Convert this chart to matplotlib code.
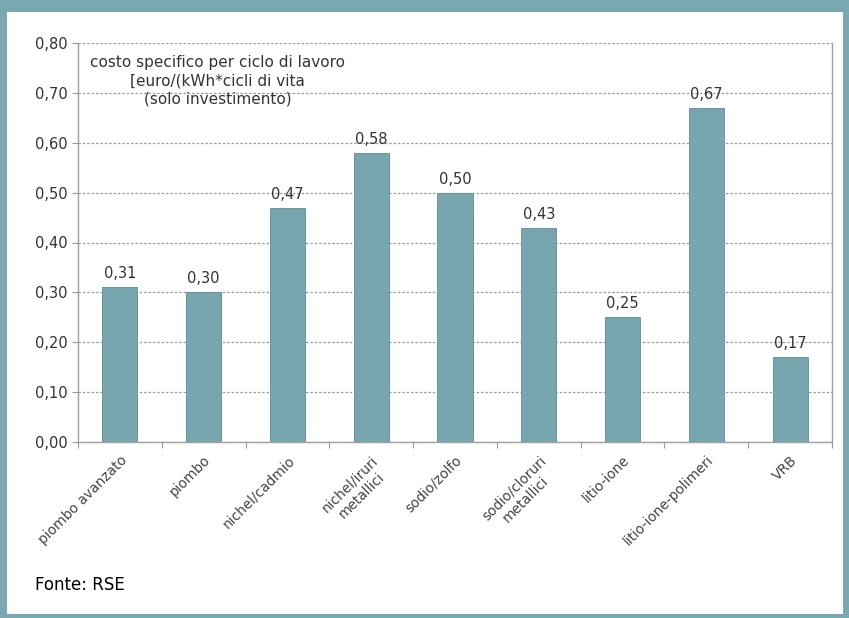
import matplotlib.pyplot as plt
from matplotlib.patches import Rectangle
from matplotlib.ticker import MultipleLocator, FuncFormatter

# costo specifico per ciclo di lavoro, per tecnologia di accumulo
tecnologie = ["piombo avanzato", "piombo", "nichel/cadmio", "nichel/iruri\nmetallici",
              "sodio/zolfo", "sodio/cloruri\nmetallici", "litio-ione",
              "litio-ione-polimeri", "VRB"]
costi = [0.31, 0.30, 0.47, 0.58, 0.50, 0.43, 0.25, 0.67, 0.17]

teal = "#78a6af"
frame = "#7aa8b1"

fig = plt.figure(figsize=(8.49, 6.18), dpi=100, facecolor=frame)
# white panel inside the coloured frame
fig.patches.append(Rectangle((7 / 849, 4 / 618), 836 / 849, 602 / 618,
                             transform=fig.transFigure, facecolor="white",
                             edgecolor="none", zorder=-10))

ax = fig.add_axes([78 / 849, 1 - 442 / 618, 754 / 849, 399 / 618])
ax.set_facecolor("white")

x = range(len(costi))
ax.bar(x, costi, width=0.42, color=teal, edgecolor="#5f8d96", linewidth=0.6, zorder=3)

for xi, v in zip(x, costi):
    ax.text(xi, v + 0.012, f"{v:.2f}".replace(".", ","), ha="center", va="bottom",
            fontsize=10.5, color="#333333", zorder=4)

ax.set_xlim(-0.5, len(costi) - 0.5)
ax.set_ylim(0, 0.8)
ax.yaxis.set_major_locator(MultipleLocator(0.1))
ax.yaxis.set_major_formatter(FuncFormatter(lambda v, _: f"{v:.2f}".replace(".", ",")))
ax.grid(axis="y", linestyle=(0, (2, 1.5)), color="#9a9a9a", linewidth=0.9, zorder=1)

ax.set_xticks([i + 0.5 for i in range(-1, len(costi))], minor=False)
ax.set_xticklabels([])
ax.set_xticks(list(x), minor=True)
ax.set_xticklabels(tecnologie, minor=True, rotation=45, ha="right",
                   rotation_mode="anchor", multialignment="center",
                   fontsize=9.8, color="#444444")
ax.tick_params(axis="x", which="minor", length=0, pad=8)
ax.tick_params(axis="x", which="major", length=4, color="#999999")
ax.tick_params(axis="y", length=4, color="#999999", labelsize=10.5,
               labelcolor="#333333")

ax.spines["top"].set_visible(False)
for side in ("left", "right", "bottom"):
    ax.spines[side].set_color("#a0a0a0")
    ax.spines[side].set_linewidth(1.0)

ax.text(1.17, 0.775, "costo specifico per ciclo di lavoro\n[euro/(kWh*cicli di vita\n(solo investimento)",
        ha="center", va="top", fontsize=11, color="#333333", linespacing=1.25,
        zorder=4)

fig.text(35 / 849, 1 - 585 / 618, "Fonte: RSE", fontsize=12, color="black",
         va="center", ha="left")

fig.savefig("out.png", dpi=100, facecolor=frame)
